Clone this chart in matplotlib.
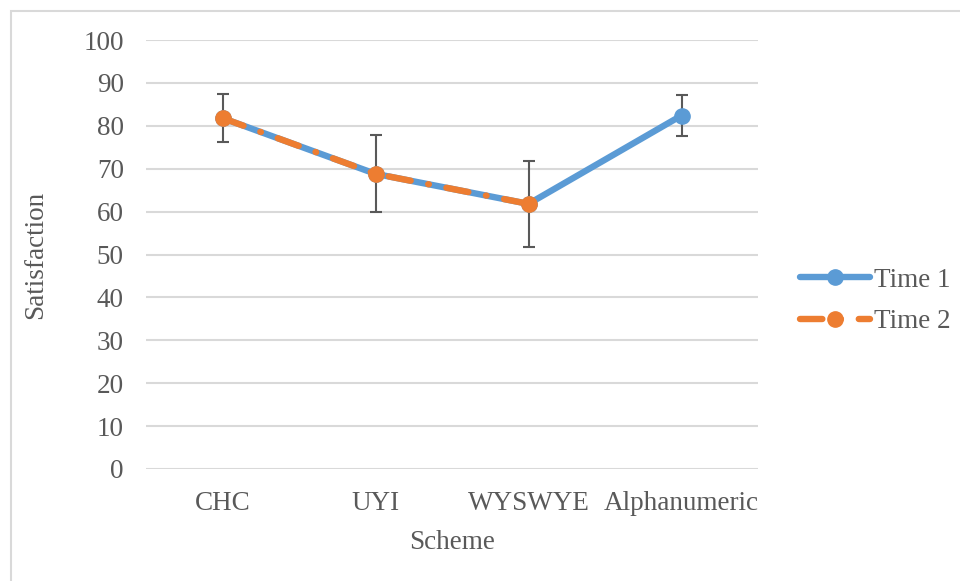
import numpy as np
import matplotlib.pyplot as plt
from matplotlib.patches import Rectangle

# data
schemes = ["CHC", "UYI", "WYSWYE", "Alphanumeric"]
time1 = [81.8, 68.8, 61.8, 82.4]
time2 = [81.8, 68.8, 61.8, np.nan]
err = [5.5, 9.0, 10.0, 4.7]

plt.rcParams["font.family"] = ["Liberation Serif", "DejaVu Serif"]
gray = "#595959"
fs = 19.5

fig = plt.figure(figsize=(9.6, 5.81), dpi=100)
# light frame around the chart area
fig.patches.append(Rectangle((11 / 960, -0.1), 1.2, 1 - 11 / 581 + 0.1,
                             transform=fig.transFigure, fill=False,
                             edgecolor="#d9d9d9", linewidth=1.5))

ax = fig.add_axes([146 / 960, 112 / 581, 612 / 960, 429 / 581])
x = np.arange(len(schemes))

ax.errorbar(x, time1, yerr=err, fmt="none", ecolor=gray, elinewidth=1.5,
            capsize=4.5, capthick=1.5, zorder=2)
ax.plot(x, time1, color="#5B9BD5", linewidth=4.6, marker="o",
        markersize=11, solid_capstyle="round", label="Time 1", zorder=3)
ax.plot(x, time2, color="#ED7D31", linewidth=4.6, marker="o",
        markersize=11, linestyle=(0, (3.5, 2.8, 0.1, 2.8)),
        dash_capstyle="round", label="Time 2", zorder=4)

ax.set_xlim(-0.5, len(schemes) - 0.5)
ax.set_ylim(0, 100)
ax.set_yticks(range(0, 101, 10))
ax.set_xticks(x)
ax.set_xticklabels(schemes)
ax.tick_params(length=0, labelsize=fs, labelcolor=gray)
ax.tick_params(axis="y", pad=16)
ax.tick_params(axis="x", pad=16)
ax.grid(axis="y", color="#d9d9d9", linewidth=1.5)
ax.set_axisbelow(True)
for s in ax.spines.values():
    s.set_visible(False)

ax.set_ylabel("Satisfaction", fontsize=fs, color=gray, labelpad=25)
ax.set_xlabel("Scheme", fontsize=fs, color=gray, labelpad=10)

fig.legend(loc="center left", bbox_to_anchor=(800 / 960, 1 - 301 / 581),
           frameon=False, fontsize=fs, labelcolor=gray, handlelength=2.6,
           handletextpad=0.15, labelspacing=0.6, borderpad=0,
           borderaxespad=0)

fig.savefig("out.png", dpi=100)
